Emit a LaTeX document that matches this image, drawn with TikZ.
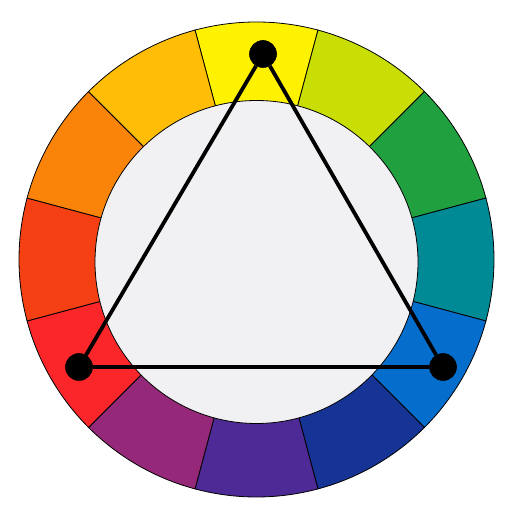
\documentclass[tikz,border=0pt]{standalone}
\usepackage{tikz}
\usetikzlibrary{positioning}
\definecolor{hueyellow}{RGB}{255,242,0}
\definecolor{hueyellowgreen}{RGB}{200,222,5}
\definecolor{huegreen}{RGB}{32,160,62}
\definecolor{hueteal}{RGB}{0,138,150}
\definecolor{hueblue}{RGB}{5,110,205}
\definecolor{huedarkblue}{RGB}{22,52,150}
\definecolor{hueviolet}{RGB}{78,42,150}
\definecolor{huepurple}{RGB}{150,40,122}
\definecolor{huered}{RGB}{250,38,42}
\definecolor{hueredorange}{RGB}{245,64,20}
\definecolor{hueorange}{RGB}{250,132,10}
\definecolor{hueyelloworange}{RGB}{255,190,5}
\definecolor{centergray}{RGB}{241,241,244}
\tikzset{
  segment/.style={draw=black, line width=0.8pt},
  hub/.style={fill=centergray, draw=black, line width=0.8pt},
  vertex/.style={
    circle, fill=black, draw=black, line width=0.6pt,
    minimum size=27pt, inner sep=0pt
  },
  edge/.style={black, line width=3.8pt}
}

\begin{document}
\begin{tikzpicture}[x=1pt, y=1pt]
  \useasboundingbox (0,0) rectangle (510,519);
  \coordinate (c) at (256.5,259.5);

  % colour ring
  \foreach \ang/\col in {90/hueyellow, 60/hueyellowgreen, 30/huegreen, 0/hueteal,
      -30/hueblue, -60/huedarkblue, -90/hueviolet, -120/huepurple,
      -150/huered, 180/hueredorange, 150/hueorange, 120/hueyelloworange}
    \filldraw[segment, fill=\col] (c) -- ++(\ang-15:237.5)
      arc[start angle=\ang-15, end angle=\ang+15, radius=237.5] -- cycle;
  \filldraw[hub] (256.5,257) circle[radius=161.5];

  % triad
  \node[vertex] (yellow) at (263,465) {};
  \node[vertex] (red) at (79,152) {};
  \node[vertex] (blue) at (443,152) {};

  \draw[edge] (yellow) -- (red);
  \draw[edge] (red) -- (blue);
  \draw[edge] (blue) -- (yellow);
\end{tikzpicture}
\end{document}
